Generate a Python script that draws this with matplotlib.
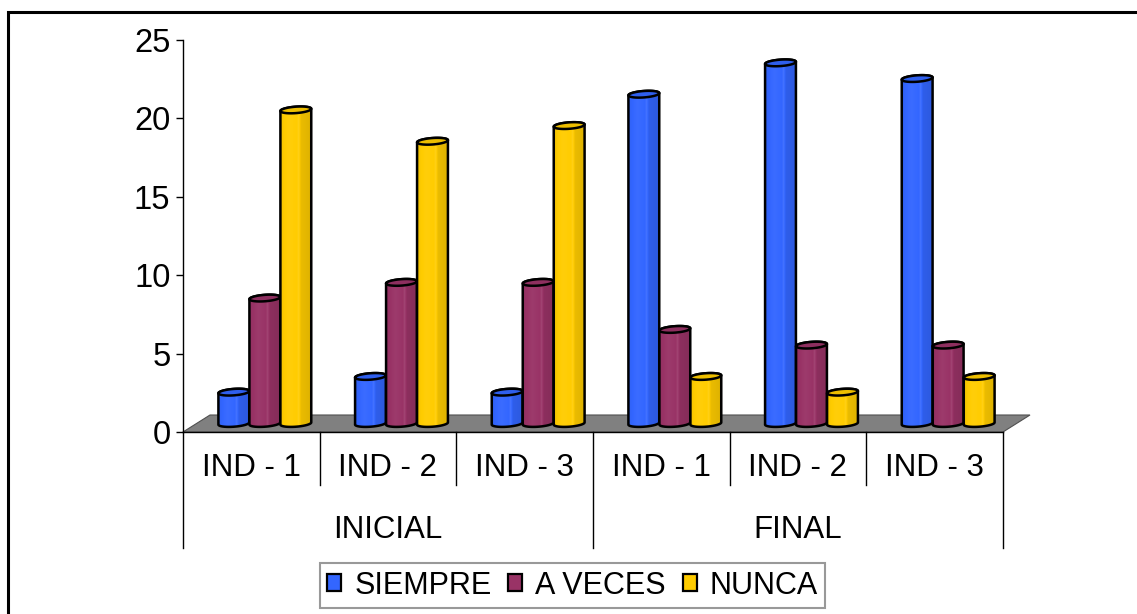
import numpy as np
import matplotlib
matplotlib.use("Agg")
import matplotlib.pyplot as plt
from matplotlib.patches import Polygon, Rectangle, Patch
from matplotlib.colors import to_rgb

plt.rcParams['font.family'] = ['Liberation Sans', 'DejaVu Sans']

# ---------------- data ----------------
groups = ["INICIAL", "FINAL"]
indicators = ["IND - 1", "IND - 2", "IND - 3", "IND - 1", "IND - 2", "IND - 3"]
series = ["SIEMPRE", "A VECES", "NUNCA"]
siempre = [2, 3, 2, 21, 23, 22]
a_veces = [8, 9, 9, 6, 5, 5]
nunca = [20, 18, 19, 3, 2, 3]
y_ticks = [0, 5, 10, 15, 20, 25]
colors = ["#3366FF", "#993366", "#FFCC00"]

values = [siempre, a_veces, nunca]

# ---------------- layout ----------------
W, H = 1137, 614
fig = plt.figure(figsize=(W / 100, H / 100), dpi=100)
ax_l, ax_r, ax_t, ax_b = 183, 1003, 40, 432
ax = fig.add_axes([ax_l / W, (H - ax_b) / H, (ax_r - ax_l) / W, (ax_b - ax_t) / H])
ncat = len(indicators)
ax.set_xlim(-0.5, ncat - 0.5)
ax.set_ylim(0, 25)
sx = ncat / (ax_r - ax_l)      # data units per pixel (x)
sy = 25 / (ax_b - ax_t)         # data units per pixel (y)

depth_x, depth_y = 27, 17       # floor depth in px

# floor
floor = Polygon([(-0.5, 0), (ncat - 0.5, 0),
                 (ncat - 0.5 + depth_x * sx, depth_y * sy),
                 (-0.5 + depth_x * sx, depth_y * sy)],
                closed=True, facecolor="#808080", edgecolor="#505050",
                lw=0.8, zorder=1, clip_on=False)
ax.add_patch(floor)

# cylinder geometry (px)
bw_px = 31.0
r_px, a_px, b_px = 14.6, 5.0, 3.4


def shade(base, f):
    base = np.array(base)
    if f >= 1:
        return base + (1 - base) * (f - 1)
    return base * f


def gradient_row(base, n=120):
    u = np.linspace(0, 1, n)
    fs = np.interp(u, [0, 0.08, 0.3, 0.55, 0.6, 0.64, 0.68, 0.95, 1.0],
                   [0.9, 0.98, 1.04, 1.0, 1.10, 1.0, 0.92, 0.88, 0.8])
    row = np.array([shade(base, f) for f in fs])
    return np.clip(row[None, :, :], 0, 1)


def ellipse_pts(xc_px, yc_px, t):
    X = xc_px + r_px * np.cos(t) + a_px * np.sin(t)
    Y = yc_px + b_px * np.sin(t)
    return X, Y


z = 3
for i in range(ncat):
    for j in range(len(series)):
        v = values[j][i]
        base = to_rgb(colors[j])
        xc_px = (i + 0.5) / sx + (j - 1) * bw_px + depth_x / 2
        y_bot_px = depth_y / 2
        y_top_px = v / sy + depth_y / 2
        t1 = np.arctan2(a_px, r_px)
        t2 = t1 + np.pi
        tb = np.linspace(t2, t1 + 2 * np.pi, 40)   # front arc bottom
        tt = np.linspace(t1, t2, 40)                # back arc top
        bx, by = ellipse_pts(xc_px, y_bot_px, tb)
        tx, ty = ellipse_pts(xc_px, y_top_px, tt)
        px = np.concatenate([bx, tx]) * sx - 0.5
        py = np.concatenate([by, ty]) * sy
        body = Polygon(np.column_stack([px, py]), closed=True,
                       facecolor="none", edgecolor="black", lw=1.8,
                       zorder=z + 0.1)
        ax.add_patch(body)
        im = ax.imshow(gradient_row(base), extent=[px.min(), px.max(), py.min(), py.max()],
                       aspect="auto", zorder=z, interpolation="bilinear")
        clip = Polygon(np.column_stack([px, py]), closed=True,
                       transform=ax.transData, facecolor="none", edgecolor="none")
        ax.add_patch(clip)
        im.set_clip_path(clip)
        ta = np.linspace(0, 2 * np.pi, 80)
        ex, ey = ellipse_pts(xc_px, y_top_px, ta)
        top = Polygon(np.column_stack([ex * sx - 0.5, ey * sy]), closed=True,
                      facecolor=shade(base, 0.93), edgecolor="black", lw=1.8,
                      zorder=z + 0.2)
        ax.add_patch(top)
        z += 1

ax.set_xlim(-0.5, ncat - 0.5)
ax.set_ylim(0, 25)

# axes styling
for s in ["top", "right"]:
    ax.spines[s].set_visible(False)
ax.spines["left"].set_linewidth(1.0)
ax.spines["bottom"].set_linewidth(1.0)
ax.spines["bottom"].set_zorder(2)
ax.set_yticks(y_ticks)
ax.set_yticklabels([str(t) for t in y_ticks], fontsize=23.5)
ax.tick_params(axis="y", direction="out", length=5, width=1, pad=4)
ax.set_xticks([])
ax.patch.set_visible(False)


def py2d(p):
    return (ax_b - p) * sy


for k in range(ncat + 1):
    bottom_px = 548 if k % 3 == 0 else 485
    ax.plot([-0.5 + k, -0.5 + k], [0, py2d(bottom_px)], color="black",
            lw=1.0, clip_on=False, zorder=2)

for i, lab in enumerate(indicators):
    ax.text(i, py2d(476), lab, ha="center", va="baseline", fontsize=22.5,
            clip_on=False)
for g, lab in enumerate(groups):
    ax.text(g * 3 + 1, py2d(538), lab, ha="center", va="baseline",
            fontsize=22.5, clip_on=False)

# legend
handles = [Patch(facecolor=c, edgecolor="black", lw=1.6) for c in colors]
leg = fig.legend(handles, series, ncol=3, loc="center",
                 bbox_to_anchor=(572.5 / W, (H - 585.5) / H), fontsize=22,
                 frameon=True, fancybox=False, edgecolor="#808080",
                 handlelength=0.46, handleheight=0.46, handletextpad=0.42,
                 columnspacing=0.55, borderpad=0.25)
leg.get_frame().set_linewidth(1.5)

# outer frame (only left/top visible)
fig.patches.append(Rectangle((7.5 / W, -0.05), 1.2, (H - 11.5) / H + 0.05,
                             transform=fig.transFigure, fill=False,
                             edgecolor="black", lw=2.2))

fig.savefig("out.png", dpi=100)
